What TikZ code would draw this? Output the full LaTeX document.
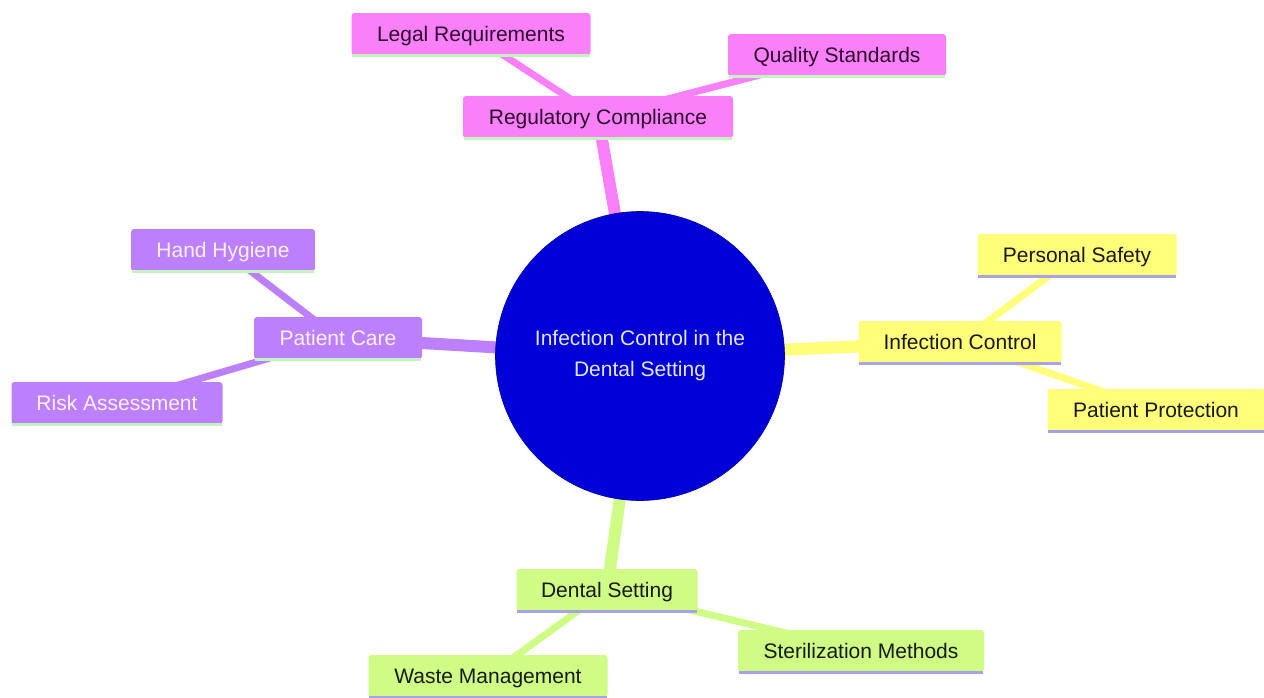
\documentclass[tikz,border=0pt]{standalone}
\usepackage{fontspec}
\setmainfont{Liberation Sans}
\usetikzlibrary{backgrounds}
\definecolor{cpink}{RGB}{249,128,249}
\definecolor{cyel}{RGB}{255,255,122}
\definecolor{cpur}{RGB}{188,128,252}
\definecolor{cgrn}{RGB}{206,252,132}
\definecolor{lgrn}{RGB}{196,244,190}
\definecolor{lpur}{RGB}{168,162,232}
\definecolor{croot}{RGB}{0,0,214}
\begin{document}
\begin{tikzpicture}[x=1pt,y=-1pt,
  box/.style={rectangle, rounded corners=3pt, minimum height=42pt, inner sep=0pt,
    text height=17pt, text depth=3pt,
    font=\fontsize{21}{25}\selectfont, anchor=center},
  pinkbox/.style={box, fill=cpink, text={rgb,255:red,45;green,10;blue,45}},
  yelbox/.style={box, fill=cyel, text=black!90},
  purbox/.style={box, fill=cpur, text={rgb,255:red,250;green,240;blue,255}},
  grnbox/.style={box, fill=cgrn, text=black!90},
  rootedge/.style={line width=12pt},
  kidedge/.style={line width=7pt},
  uline/.style={line width=3pt}
]
\useasboundingbox (0,0) rectangle (1264,697);

% nodes
\node[circle, fill=croot, draw={rgb,255:red,0;green,0;blue,170}, line width=0.6pt, minimum size=289pt,
  text={rgb,255:red,228;green,228;blue,240}, align=center, font=\fontsize{21}{31}\selectfont]
  (root) at (640,356) {Infection Control in the\\Dental Setting};

\node[pinkbox, minimum width=270pt] (reg) at (598,117) {Regulatory Compliance};
\node[pinkbox, minimum width=239pt] (legal) at (471,34) {Legal Requirements};
\node[pinkbox, minimum width=218pt] (qual) at (837,55) {Quality Standards};

\node[yelbox, minimum width=203pt] (ic) at (960,342) {Infection Control};
\node[yelbox, minimum width=199pt] (ps) at (1077,255) {Personal Safety};
\node[yelbox, minimum width=217pt] (pp) at (1156,410) {Patient Protection};

\node[purbox, minimum width=168pt] (pc) at (338,338) {Patient Care};
\node[purbox, minimum width=184pt] (hh) at (223,250) {Hand Hygiene};
\node[purbox, minimum width=211pt] (ra) at (117,403) {Risk Assessment};

\node[grnbox, minimum width=181pt] (ds) at (607,590) {Dental Setting};
\node[grnbox, minimum width=246pt] (sm) at (861,651) {Sterilization Methods};
\node[grnbox, minimum width=239pt] (wm) at (488,676) {Waste Management};

% underlines
\foreach \n in {reg,legal,qual,pc,hh,ra}
  \draw[uline, lgrn] ([xshift=1pt]\n.south west) -- ([xshift=-1pt]\n.south east);
\foreach \n in {ic,ps,pp,ds,sm,wm}
  \draw[uline, lpur] ([xshift=1pt]\n.south west) -- ([xshift=-1pt]\n.south east);

% edges behind nodes
\begin{scope}[on background layer]
  \draw[rootedge, cpink] (root.center) -- (reg.center);
  \draw[rootedge, cyel] (root.center) -- (ic.center);
  \draw[rootedge, cpur] (root.center) -- (pc.center);
  \draw[rootedge, cgrn] (root.center) -- (ds.center);
  \draw[kidedge, cpink] (reg.center) -- (legal.center);
  \draw[kidedge, cpink] (reg.center) -- (qual.center);
  \draw[kidedge, cyel] (ic.center) -- (ps.center);
  \draw[kidedge, cyel] (ic.center) -- (pp.center);
  \draw[kidedge, cpur] (pc.center) -- (hh.center);
  \draw[kidedge, cpur] (pc.center) -- (ra.center);
  \draw[kidedge, cgrn] (ds.center) -- (sm.center);
  \draw[kidedge, cgrn] (ds.center) -- (wm.center);
\end{scope}
\end{tikzpicture}
\end{document}
